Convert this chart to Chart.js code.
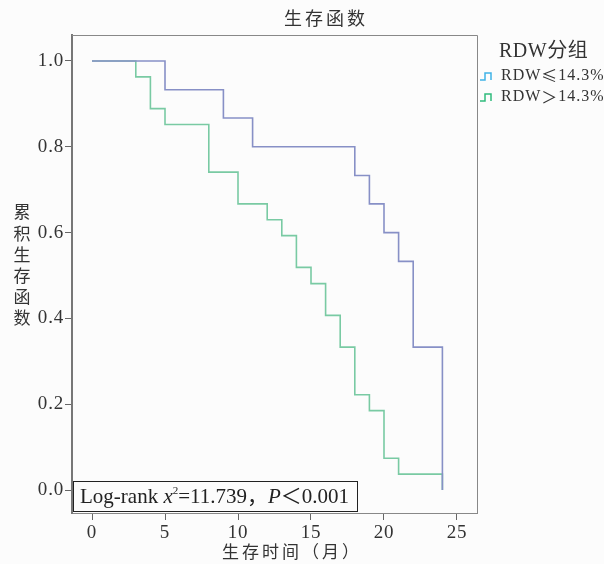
<!DOCTYPE html>
<html>

<head>
    <title>生存函数</title>
    <style>
        body {
            margin: 0;
            background: #fcfcfc;
        }
    </style>
    <script src="https://cdn.jsdelivr.net/npm/chart.js"></script>
</head>

<body>
    <canvas id="myChart" width="604" height="564"></canvas>

    <script>
        // Kaplan-Meier steps
        const lowTimes = [0, 5, 9, 11, 18, 19, 20, 21, 22, 24];
        const lowSurv = [1, 0.933, 0.867, 0.8, 0.733, 0.667, 0.6, 0.533, 0.333, 0];
        const highTimes = [0, 3, 4, 5, 8, 10, 12, 13, 14, 15, 16, 17, 18, 19, 20, 21, 24];
        const highSurv = [1, 0.963, 0.889, 0.852, 0.741, 0.667, 0.630, 0.593, 0.519, 0.481, 0.407, 0.333, 0.222, 0.185, 0.074, 0.037, 0];

        const seriesLabels = ['RDW≤14.3%', 'RDW＞14.3%'];
        const xTicks = [0, 5, 10, 15, 20, 25];
        const yTicks = [0, 0.2, 0.4, 0.6, 0.8, 1.0];

        const serif = '"Liberation Serif", "Noto Sans CJK SC", serif';
        const cjk = '"Noto Sans CJK SC", "Liberation Serif", serif';

        function toPoints(xs, ys) {
            return xs.map((x, i) => ({ x: x, y: ys[i] }));
        }

        // titles, frame, legend and the log-rank box
        const decor = {
            id: 'decor',
            beforeDraw(chart) {
                const ctx = chart.ctx;
                ctx.save();
                ctx.fillStyle = '#fcfcfc';
                ctx.fillRect(0, 0, chart.width, chart.height);
                ctx.restore();
                ctx.letterSpacing = '0.8px';
            },
            afterDraw(chart) {
                const ctx = chart.ctx;
                const a = chart.chartArea;
                ctx.save();

                // frame
                ctx.strokeStyle = '#888';
                ctx.lineWidth = 1;
                ctx.beginPath();
                ctx.moveTo(a.left, a.top + 0.5);
                ctx.lineTo(a.right + 0.5, a.top + 0.5);
                ctx.lineTo(a.right + 0.5, a.bottom);
                ctx.stroke();

                ctx.fillStyle = '#333';
                ctx.textBaseline = 'middle';

                // title
                ctx.letterSpacing = '3px';
                ctx.font = '18px ' + cjk;
                ctx.textAlign = 'center';
                ctx.fillText('生存函数', 326, 18);

                // x title
                ctx.font = '17px ' + cjk;
                ctx.letterSpacing = '3px';
                ctx.fillText('生存时间（月）', 292, 552);

                // y title, stacked
                ctx.letterSpacing = '0px';
                ctx.font = '17px ' + cjk;
                const yChars = '累积生存函数'.split('');
                yChars.forEach((c, i) => ctx.fillText(c, 22, 212 + i * 21.2));

                // legend
                ctx.textAlign = 'left';
                ctx.font = '20px ' + serif;
                ctx.letterSpacing = '0.5px';
                ctx.fillText('RDW分组', 499, 52);
                const legendColors = ['#3fb2e6', '#2fbb7c'];
                const rowY = [76, 97];
                ctx.letterSpacing = '1px';
                seriesLabels.forEach((lab, i) => {
                    const y = rowY[i];
                    ctx.strokeStyle = legendColors[i];
                    ctx.lineWidth = 1.5;
                    ctx.beginPath();
                    ctx.moveTo(480, y + 4);
                    ctx.lineTo(485, y + 4);
                    ctx.lineTo(485, y - 3);
                    ctx.lineTo(491, y - 3);
                    ctx.lineTo(491, y + 4);
                    ctx.stroke();
                    ctx.fillStyle = '#333';
                    let lx = 501;
                    lab.split('').forEach(ch => {
                        ctx.font = (ch.charCodeAt(0) > 127 ? '16px ' + cjk : '16px ' + serif);
                        ctx.fillText(ch, lx, y);
                        lx += ctx.measureText(ch).width;
                    });
                });

                // log-rank box
                ctx.fillStyle = '#fcfcfc';
                ctx.fillRect(73, 481, 284, 30);
                ctx.strokeStyle = '#222';
                ctx.lineWidth = 1;
                ctx.strokeRect(73.5, 481.5, 284, 30);
                ctx.fillStyle = '#222';
                ctx.textBaseline = 'alphabetic';
                ctx.letterSpacing = '0px';
                let x = 80;
                const by = 503;
                const parts = [
                    ['Log-rank ', '21px ' + serif],
                    ['x', 'italic 21px ' + serif],
                    ['2', '11px ' + serif, -9],
                    ['=11.739，', '21px ' + serif],
                    ['P', 'italic 21px ' + serif],
                    ['＜0.001', '21px ' + serif]
                ];
                parts.forEach(p => {
                    ctx.font = p[1];
                    ctx.fillText(p[0], x, by + (p[2] || 0));
                    x += ctx.measureText(p[0]).width;
                });

                ctx.restore();
            }
        };

        const ctx = document.getElementById('myChart').getContext('2d');

        const myChart = new Chart(ctx, {
            type: 'line',
            data: {
                datasets: [{
                    label: seriesLabels[0],
                    data: toPoints(lowTimes, lowSurv),
                    borderColor: '#8790c6',
                    borderWidth: 1.6,
                    stepped: true,
                    pointRadius: 0,
                    fill: false
                }, {
                    label: seriesLabels[1],
                    data: toPoints(highTimes, highSurv),
                    borderColor: '#79caa3',
                    borderWidth: 1.6,
                    stepped: true,
                    pointRadius: 0,
                    fill: false
                }]
            },
            options: {
                responsive: false,
                animation: false,
                layout: {
                    padding: { top: 35, right: 127, left: 0, bottom: 0 }
                },
                plugins: {
                    legend: { display: false },
                    title: { display: false },
                    tooltip: { enabled: false }
                },
                scales: {
                    x: {
                        type: 'linear',
                        min: -1.37,
                        max: 26.37,
                        afterBuildTicks: s => { s.ticks = xTicks.map(v => ({ value: v })); },
                        afterFit: s => { s.height = 51; },
                        grid: { drawOnChartArea: false, drawTicks: true, tickLength: 7, color: '#666' },
                        border: { color: '#888', width: 1 },
                        ticks: { font: { family: serif, size: 19 }, color: '#333', padding: 2, maxRotation: 0 }
                    },
                    y: {
                        type: 'linear',
                        min: -0.0536,
                        max: 1.0606,
                        afterBuildTicks: s => { s.ticks = yTicks.map(v => ({ value: v })); },
                        afterFit: s => { s.width = 72; },
                        grid: { drawOnChartArea: false, drawTicks: true, tickLength: 7, color: '#666' },
                        border: { color: '#777', width: 2 },
                        ticks: {
                            font: { family: serif, size: 19 },
                            color: '#333',
                            padding: 1,
                            callback: v => v.toFixed(1)
                        }
                    }
                }
            },
            plugins: [decor]
        });
    </script>
</body>

</html>
